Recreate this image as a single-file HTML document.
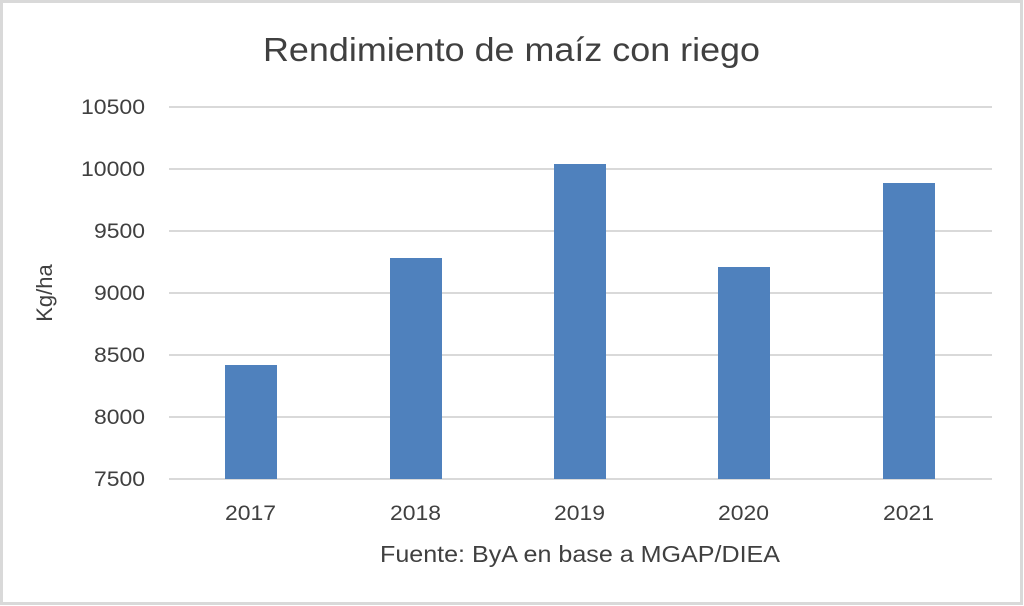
<!DOCTYPE html>
<html><head><meta charset="utf-8"><style>
html,body{margin:0;padding:0;background:#fff;}
svg{display:block;}
text{font-family:"Liberation Sans",sans-serif;fill:#404040;}
</style></head><body>
<svg width="1024" height="606" viewBox="0 0 1024 606">
<rect x="0" y="0" width="1024" height="606" fill="#fff"/>
<rect x="1.5" y="1.5" width="1020" height="602" fill="none" stroke="#d9d9d9" stroke-width="3"/>
<text x="263" y="61" font-size="33" textLength="497" lengthAdjust="spacingAndGlyphs">Rendimiento de maíz con riego</text>
<g stroke="#d9d9d9" stroke-width="2">
<line x1="169" x2="992" y1="107" y2="107"/>
<line x1="169" x2="992" y1="169" y2="169"/>
<line x1="169" x2="992" y1="231" y2="231"/>
<line x1="169" x2="992" y1="293" y2="293"/>
<line x1="169" x2="992" y1="355" y2="355"/>
<line x1="169" x2="992" y1="417" y2="417"/>
<line x1="169" x2="992" y1="479" y2="479"/>
</g>
<g font-size="21">
<text x="81" y="114" textLength="64" lengthAdjust="spacingAndGlyphs">10500</text>
<text x="81" y="176" textLength="64" lengthAdjust="spacingAndGlyphs">10000</text>
<text x="94" y="238" textLength="51" lengthAdjust="spacingAndGlyphs">9500</text>
<text x="94" y="300" textLength="51" lengthAdjust="spacingAndGlyphs">9000</text>
<text x="94" y="362" textLength="51" lengthAdjust="spacingAndGlyphs">8500</text>
<text x="94" y="424" textLength="51" lengthAdjust="spacingAndGlyphs">8000</text>
<text x="94" y="486" textLength="51" lengthAdjust="spacingAndGlyphs">7500</text>
</g>
<text transform="translate(52,293) rotate(-90)" font-size="22" text-anchor="middle">Kg/ha</text>
<g fill="#4f81bd">
<rect x="225" y="365" width="52" height="114"/>
<rect x="390" y="258" width="52" height="221"/>
<rect x="554" y="164" width="52" height="315"/>
<rect x="718" y="267" width="52" height="212"/>
<rect x="883" y="183" width="52" height="296"/>
</g>
<g font-size="21">
<text x="225" y="520" textLength="51" lengthAdjust="spacingAndGlyphs">2017</text>
<text x="390" y="520" textLength="51" lengthAdjust="spacingAndGlyphs">2018</text>
<text x="554" y="520" textLength="51" lengthAdjust="spacingAndGlyphs">2019</text>
<text x="718" y="520" textLength="51" lengthAdjust="spacingAndGlyphs">2020</text>
<text x="883" y="520" textLength="51" lengthAdjust="spacingAndGlyphs">2021</text>
</g>
<text x="380" y="562" font-size="23" textLength="400" lengthAdjust="spacingAndGlyphs">Fuente: ByA en base a MGAP/DIEA</text>
</svg>
</body></html>
